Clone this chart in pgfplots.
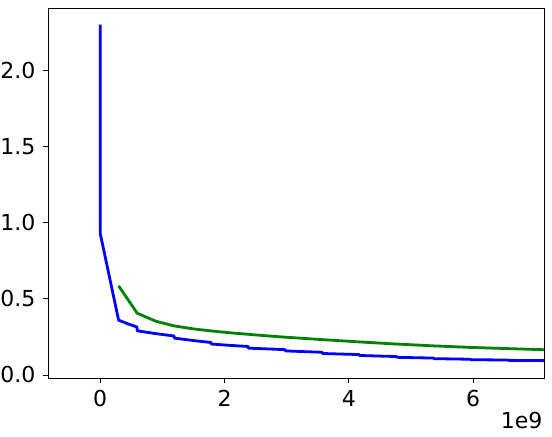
\documentclass[border=0pt]{standalone}
\usepackage{pgfplots}
\pgfplotsset{compat=1.18}
\usepackage{fontspec}
\setmainfont{DejaVu Sans}
\definecolor{mplblue}{RGB}{0,0,255}
\definecolor{mplgreen}{RGB}{0,128,0}
\begin{document}
\fontsize{16.5}{19}\selectfont
\begin{tikzpicture}
\useasboundingbox (-36pt,-43.5pt) rectangle (378pt,283.5pt);
\begin{axis}[
    scale only axis,
    width=372pt,
    height=277.5pt,
    at={(0pt,0pt)}, anchor=south west,
    xmin=-0.84, xmax=7.14,
    ymin=-0.02, ymax=2.41,
    xtick={0,2,4,6},
    ytick={0,0.5,1,1.5,2},
    yticklabel style={/pgf/number format/.cd,fixed,fixed zerofill,precision=1},
    /pgf/number format/assume math mode=true,
    tick align=outside,
    tick pos=left,
    major tick length=3.75pt,
    tick style={black, line width=0.6pt},
    axis line style={line width=0.6pt},
    ticklabel style={font=\fontsize{16.5}{19}\selectfont},
    clip=true,
]
\addplot[color=mplblue, line width=2.1pt, line join=round] coordinates {
(0,2.30)(0,0.93)(0.296,0.36)(0.45,0.335)(0.592,0.315)(0.596,0.29)
(0.9,0.271)(1.188,0.256)(1.192,0.242)(1.5,0.226)(1.784,0.213)(1.788,0.203)
(2.1,0.194)(2.38,0.187)(2.384,0.176)(2.7,0.171)(2.976,0.166)(2.98,0.158)
(3.3,0.153)(3.572,0.149)(3.576,0.141)(3.9,0.137)(4.168,0.134)(4.172,0.128)
(4.5,0.124)(4.764,0.121)(4.768,0.116)(5.1,0.113)(5.36,0.111)(5.364,0.107)
(5.7,0.105)(5.956,0.103)(5.96,0.100)(6.3,0.099)(6.552,0.098)(6.556,0.096)
(7.2,0.094)
};
\addplot[color=mplgreen, line width=2.1pt, line join=round] coordinates {
(0.296,0.585)(0.596,0.405)(0.894,0.353)(1.192,0.322)(1.49,0.303)(1.788,0.289)
(2.086,0.277)(2.384,0.267)(2.682,0.257)(2.98,0.248)(3.576,0.232)(4.172,0.217)
(4.768,0.203)(5.364,0.191)(5.96,0.181)(6.556,0.173)(7.2,0.165)
};
\end{axis}
\node[anchor=base east, inner sep=0pt] at (371pt,-38pt) {1e9};
\end{tikzpicture}
\end{document}
